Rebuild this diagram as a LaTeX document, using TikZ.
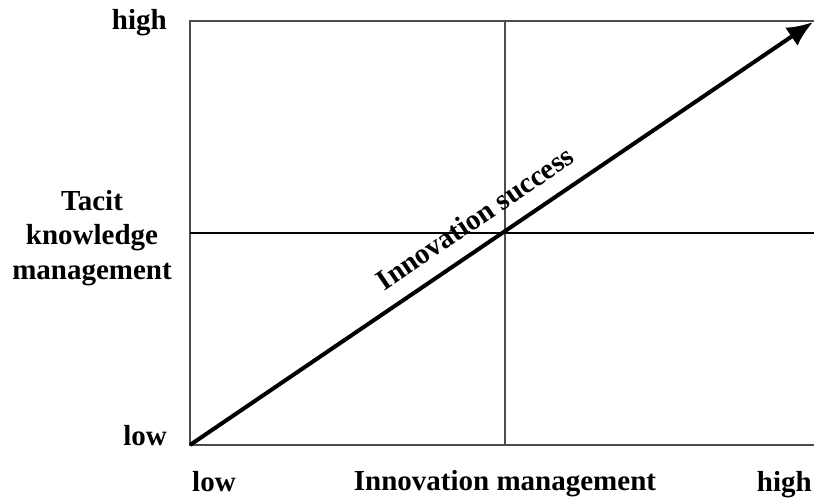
\documentclass[tikz,border=0pt]{standalone}
\usepackage{fontspec}
\setmainfont{Liberation Serif}
\usetikzlibrary{arrows.meta}
\begin{document}
\begin{tikzpicture}[x=1pt,y=-1pt,
  lbl/.style={inner sep=0pt,font=\bfseries\fontsize{29}{34.5}\selectfont},
  frame/.style={draw=black!70,line width=1.8pt},
  midh/.style={draw=black,line width=2.4pt},
  midv/.style={draw=black!70,line width=1.8pt},
  trend/.style={draw=black,line width=4pt,-{Latex[length=26pt,width=22pt]}}]
\useasboundingbox (0,0) rectangle (814,499);
% quadrant frame (open to the right)
\coordinate (tl) at (190,21);
\coordinate (tr) at (814,21);
\coordinate (bl) at (190,445);
\coordinate (br) at (814,445);
\coordinate (ml) at (190,233);
\coordinate (mr) at (814,233);
\coordinate (mt) at (505,21);
\coordinate (mb) at (505,445);
\draw[frame] (tr) -- (tl) -- (bl) -- (br);
\draw[midh] (ml) -- (mr);
\draw[midv] (mt) -- (mb);
% diagonal trend arrow
\coordinate (tip) at (813,22);
\draw[trend] (bl) -- (tip);
\node[lbl,rotate=34.2] (succ) at (475,218) {Innovation success};
% axis labels
\node[lbl,anchor=base east] (yhigh) at (167,29) {high};
\node[lbl,anchor=base east] (ylow) at (167,445) {low};
\node[lbl,align=center] (yname) at (92,238) {Tacit\\knowledge\\management};
\node[lbl,anchor=base west] (xlow) at (192,491) {low};
\node[lbl,anchor=base] (xname) at (505,490) {Innovation management};
\node[lbl,anchor=base east] (xhigh) at (812,491) {high};
\end{tikzpicture}
\end{document}
